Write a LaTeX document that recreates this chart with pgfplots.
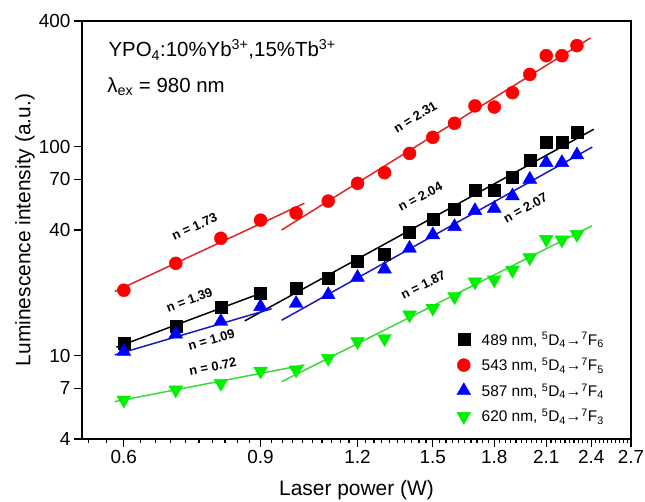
\documentclass[border=0pt]{standalone}
\usepackage{fontspec}
\setmainfont{Liberation Sans}
\usepackage{pgfplots}
\usepackage{pgfplotstable}
\pgfplotsset{compat=1.18}

\definecolor{cred}{RGB}{255,0,0}
\definecolor{cblue}{RGB}{0,0,255}
\definecolor{cgreen}{RGB}{0,240,0}
\definecolor{fred}{RGB}{225,35,35}
\definecolor{fblue}{RGB}{25,25,185}
\definecolor{fgreen}{RGB}{60,215,60}

% power (W), intensities of the four emissions
\pgfplotstableread{
x    b489   r543   u587   d620
0.6  11.5   20.6   10.5   6.15
0.7  13.9   27.7   12.7   6.87
0.8  17.0   36.5   14.6   7.39
0.9  19.9   44.6   17.2   8.46
1.0  21.0   48.2   17.8   8.56
1.1  23.6   55.0   19.6   9.73
1.2  28.5   66.9   23.7   11.7
1.3  30.7   75.2   26.0   12.1
1.4  39.0   93.0   32.7   15.7
1.5  45.0   111    37.9   16.9
1.6  50.4   129.6  41.5   19.2
1.7  61.7   157    49.5   22.6
1.8  61.7   155    50.8   23.1
1.9  71.5   181.6  58.2   25.7
2.0  86.5   222    69.9   29.5
2.1  105.8  273    84.0   36.1
2.2  105.8  273    84.0   35.9
2.3  116.9  305    91.4   38.1
}\datatab

\newcommand{\trans}[1]{\textsuperscript{5}D\textsubscript{4}→\textsuperscript{7}F\textsubscript{#1}}

\begin{document}
\begin{tikzpicture}
\useasboundingbox (-82bp,-63bp) rectangle (563bp,439bp);
\begin{axis}[
    at={(0,0)}, anchor=south west,
    width=549bp, height=418bp, scale only axis,
    xmode=log, ymode=log,
    xmin=0.53, xmax=2.7, ymin=4, ymax=400,
    xtick={0.6,0.9,1.2,1.5,1.8,2.1,2.4,2.7},
    xticklabels={0.6,0.9,1.2,1.5,1.8,2.1,2.4,2.7},
    minor xtick={0.54,0.57,0.63,0.66,0.69,0.72,0.75,0.78,0.81,0.84,0.87,0.93,0.96,0.99,1.02,1.05,1.08,1.11,1.14,1.17,1.23,1.26,1.29,1.32,1.35,1.38,1.41,1.44,1.47,1.53,1.56,1.59,1.62,1.65,1.68,1.71,1.74,1.77,1.83,1.86,1.89,1.92,1.95,1.98,2.01,2.04,2.07,2.13,2.16,2.19,2.22,2.25,2.28,2.31,2.34,2.37,2.43,2.46,2.49,2.52,2.55,2.58,2.61,2.64,2.67},
    ytick={4,7,10,40,70,100,400},
    yticklabels={4,7,10,40,70,100,400},
    yminorticks=false,
    tick align=outside,
    xtick pos=left, ytick pos=left,
    major tick length=8bp, minor tick length=4bp,
    axis line style={line width=1.2bp},
    every tick/.style={black, line width=1.1bp},
    tick label style={font=\fontsize{19}{22}\selectfont},
    xlabel={Laser power (W)},
    ylabel={Luminescence intensity (a.u.)},
    label style={font=\fontsize{21}{24}\selectfont},
    xlabel style={at={(axis description cs:0.5,-0.122)}, anchor=center},
    ylabel style={at={(axis description cs:-0.104,0.5)}, anchor=center},
    legend style={draw=none, fill=none, at={(axis description cs:0.677,0.265)},
        anchor=north west, font=\fontsize{15.5}{18}\selectfont, row sep=7.5bp,
        /tikz/every odd column/.append style={column sep=9bp}},
    legend cell align=left,
]
\addplot[only marks, mark=square*, mark size=6bp, mark options={draw=black, fill=black}]
    table[x=x, y=b489] {\datatab};
\addlegendentry{489 nm, \trans{6}}
\addplot[only marks, mark=*, mark size=6.5bp, mark options={draw=cred, fill=cred}]
    table[x=x, y=r543] {\datatab};
\addlegendentry{543 nm, \trans{5}}
\addplot[only marks, mark=triangle*, mark size=8bp, mark options={draw=cblue, fill=cblue}]
    table[x=x, y=u587] {\datatab};
\addlegendentry{587 nm, \trans{4}}
\addplot[only marks, mark=triangle*, mark size=8bp, mark options={draw=cgreen, fill=cgreen, rotate=180}]
    table[x=x, y=d620] {\datatab};
\addlegendentry{620 nm, \trans{3}}

% linear fits on log-log scale
\addplot[fred, line width=1.5bp, forget plot] coordinates {(0.584,20.3) (1.025,53.7)};
\addplot[fred, line width=1.5bp, forget plot] coordinates {(0.958,40) (2.395,332)};
\addplot[black, line width=1.5bp, forget plot] coordinates {(0.587,11.0) (0.916,20.4)};
\addplot[black, line width=1.5bp, forget plot] coordinates {(0.859,14.7) (2.418,121.4)};
\addplot[fblue, line width=1.5bp, forget plot] coordinates {(0.584,10.1) (0.93,16.8)};
\addplot[fblue, line width=1.5bp, forget plot] coordinates {(0.958,14.8) (2.407,99.7)};
\addplot[fgreen, line width=1.5bp, forget plot] coordinates {(0.584,6.04) (1.025,9.05)};
\addplot[fgreen, line width=1.5bp, forget plot] coordinates {(0.958,7.52) (2.405,41.9)};

\begin{scope}[every node/.style={font=\bfseries\fontsize{13}{15}\selectfont}]
\node[rotate=24] at (axis cs:0.740,41.5) {n = 1.73};
\node[rotate=31] at (axis cs:1.424,139) {n = 2.31};
\node[rotate=20] at (axis cs:0.729,18.5) {n = 1.39};
\node[rotate=16] at (axis cs:0.778,11.9) {n = 1.09};
\node[rotate=11] at (axis cs:0.781,8.87) {n = 0.72};
\node[rotate=28] at (axis cs:1.445,57.7) {n = 2.04};
\node[rotate=29] at (axis cs:1.974,51) {n = 2.07};
\node[rotate=26] at (axis cs:1.458,21.8) {n = 1.87};
\end{scope}

\node[anchor=base west, font=\fontsize{20.5}{24}\selectfont] at (axis description cs:0.042,0.914)
    {YPO\textsubscript{4}:10\%Yb\textsuperscript{3+},15\%Tb\textsuperscript{3+}};
\node[anchor=base west, font=\fontsize{20.5}{24}\selectfont] at (axis description cs:0.040,0.829)
    {λ\textsubscript{ex} = 980 nm};
\end{axis}
\end{tikzpicture}
\end{document}
